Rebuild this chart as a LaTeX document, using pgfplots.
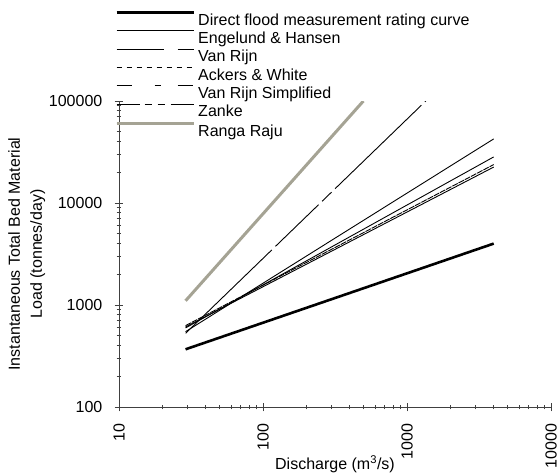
\documentclass[border=0pt]{standalone}
\usepackage{fontspec}
\setmainfont{Liberation Sans}
\usepackage{pgfplots}
\pgfplotsset{compat=1.18}
\definecolor{rangaraju}{RGB}{165,163,148}
\definecolor{axisgrey}{RGB}{64,64,64}

\begin{document}
\begin{tikzpicture}
\useasboundingbox (-119pt,-68pt) rectangle (440pt,407pt);
\begin{axis}[
    scale only axis, width=432pt, height=306pt,
    xmode=log, ymode=log,
    xmin=10, xmax=10000, ymin=100, ymax=100000,
    axis lines=left, axis line style={-, axisgrey, line width=0.8pt},
    tick style={axisgrey, line width=0.8pt},
    tick align=center, major tick length=9pt, minor tick length=5pt,
    log ticks with fixed point,
    /pgf/number format/1000 sep={},
    /pgf/number format/assume math mode=true,
    tick label style={font=\fontsize{16pt}{19pt}\selectfont, inner sep=0pt},
    xticklabel style={rotate=90, anchor=east},
    xticklabel shift=12pt, yticklabel shift=12pt,
    xlabel={Discharge (m\textsuperscript{3}/s)},
    xlabel style={at={(axis description cs:0.5,-0.157)}, anchor=north, inner sep=0pt,
        font=\fontsize{16pt}{19pt}\selectfont},
    ylabel={Instantaneous Total Bed Material\\Load (tonnes/day)},
    ylabel style={at={(axis description cs:-0.1705,0.5)}, anchor=south, inner sep=0pt,
        align=center, font=\fontsize{16pt}{22pt}\selectfont},
    legend image code/.code={\draw[#1] (0pt,8pt) -- (77pt,8pt);},
    legend style={at={(axis description cs:-0.0092,1.2941)}, anchor=north west,
        draw=none, fill=none, inner sep=0pt, row sep=2.4pt, column sep=3pt,
        font=\fontsize{16pt}{19pt}\selectfont,
        nodes={inner sep=0pt, text height=12pt, text depth=3pt},
        cells={anchor=west}},
]
% rating curve and formula predictions
\addplot[black, line width=2.6pt, forget plot] coordinates {(29,368) (4000,4000)};
\addplot[black, line width=0.9pt, forget plot] coordinates {(29,548) (4000,42500)};
\addplot[black, line width=0.9pt, forget plot,
    dash pattern=on 120pt off 5pt on 60pt off 5pt on 13pt off 5pt] coordinates {(29,528) (1350,100000)};
\addplot[black, line width=0.9pt, forget plot] coordinates {(29,596) (4000,28300)};
\addplot[black, line width=0.9pt, forget plot,
    dash pattern=on 6pt off 1pt] coordinates {(29,628) (4000,23800)};
\addplot[black, line width=0.9pt, forget plot] coordinates {(29,610) (4000,22500)};
\addplot[rangaraju, line width=3pt, forget plot] coordinates {(29,1100) (498,100000)};

% legend samples
\addlegendimage{black, line width=2.6pt}
\addlegendentry{Direct flood measurement rating curve}
\addlegendimage{black, line width=0.9pt}
\addlegendentry{Engelund \& Hansen}
\addlegendimage{black, line width=0.9pt, dash pattern=on 47pt off 14pt on 16pt off 14pt}
\addlegendentry{Van Rijn}
\addlegendimage{black, line width=0.9pt, dash pattern=on 5pt off 5pt}
\addlegendentry{Ackers \& White}
\addlegendimage{black, line width=0.9pt, dash pattern=on 15pt off 23pt on 6pt off 17pt}
\addlegendentry{Van Rijn Simplified}
\addlegendimage{black, line width=0.9pt, dash pattern=on 23pt off 5pt on 7pt off 6pt on 7pt off 6pt}
\addlegendentry{Zanke}
\addlegendimage{rangaraju, line width=3pt}
\addlegendentry{Ranga Raju}
\end{axis}
\end{tikzpicture}
\end{document}
